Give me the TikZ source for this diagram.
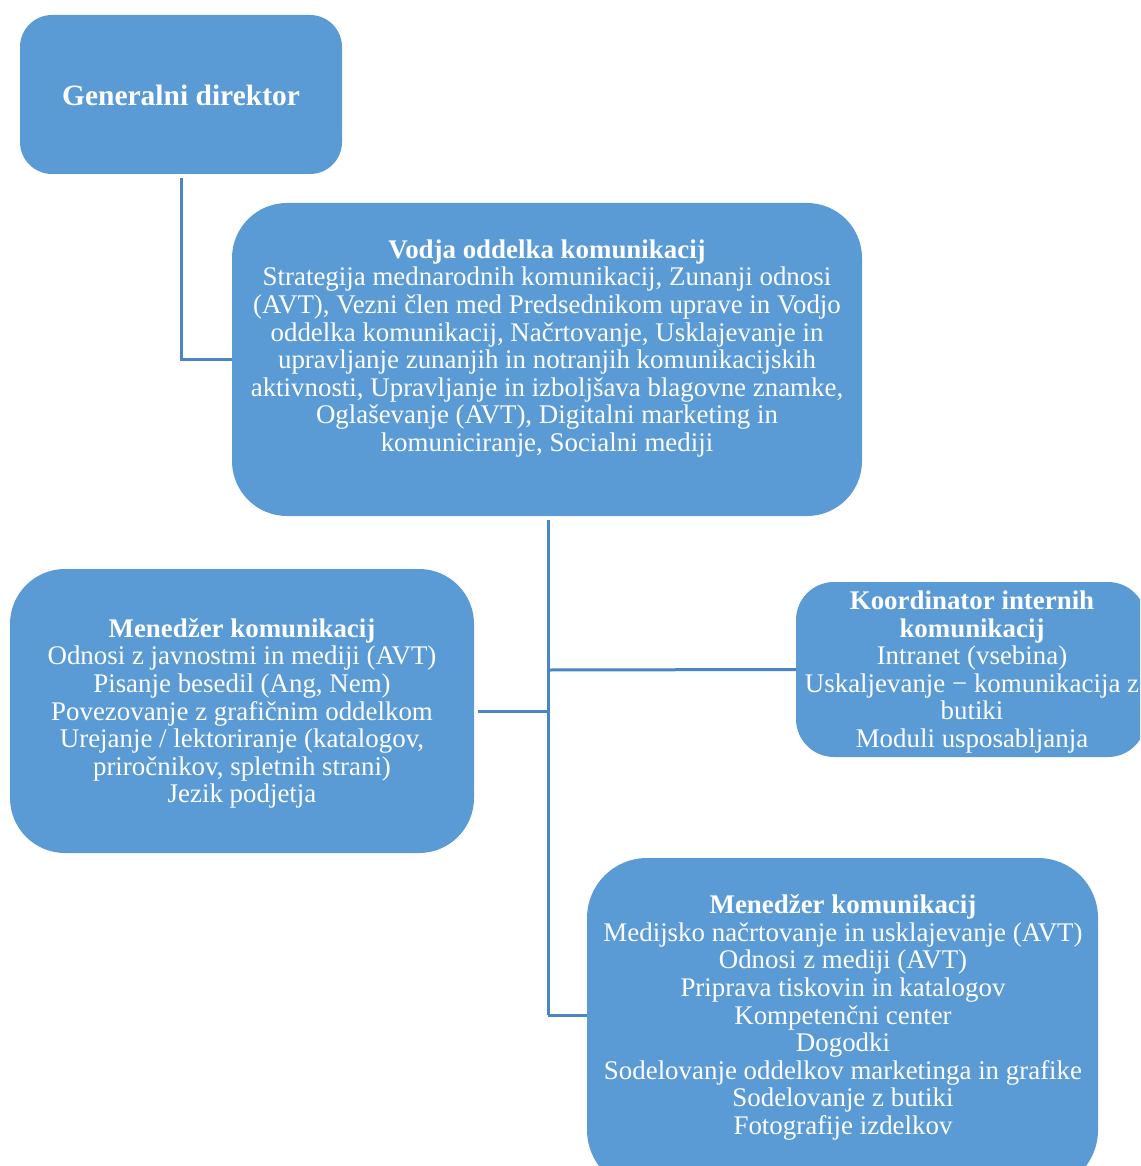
\documentclass[tikz,border=0pt]{standalone}
\usepackage{fontspec}
\setmainfont{Liberation Serif}
\definecolor{boxblue}{HTML}{5B9BD5}
\definecolor{linkblue}{HTML}{4A86C5}
\begin{document}
\begin{tikzpicture}[x=1pt,y=-1pt,
  box/.style={fill=boxblue,draw=none,inner sep=0pt,outer sep=0pt},
  txt/.style={text=white,align=center,inner sep=0pt,font=\fontsize{26.9}{27.6}\selectfont},
  link/.style={draw=linkblue,line width=3pt}]
\useasboundingbox (0,0) rectangle (1140,1166);
\clip (0,0) rectangle (1140,1166);
% boxes
\node[box,rounded corners=32pt,minimum width=322pt,minimum height=159pt] (gd) at (181,94.5) {};
\node[box,rounded corners=55pt,minimum width=630pt,minimum height=313pt] (vod) at (547,359.5) {};
\node[box,rounded corners=55pt,minimum width=464pt,minimum height=284pt] (men1) at (242,711) {};
\node[box,rounded corners=38pt,minimum width=350pt,minimum height=175pt] (koo) at (971,669.5) {};
\node[box,rounded corners=60pt,minimum width=511pt,minimum height=332pt] (men2) at (842.5,1024) {};
% texts
\node[txt,font=\fontsize{29.5}{27.6}\selectfont\bfseries] (tgd) at (181,95) {Generalni direktor};
\node[txt] (tvod) at (547,348.5) {\textbf{Vodja oddelka komunikacij}\\
Strategija mednarodnih komunikacij, Zunanji odnosi\\
(AVT), Vezni člen med Predsednikom uprave in Vodjo\\
oddelka komunikacij, Načrtovanje, Usklajevanje in\\
upravljanje zunanjih in notranjih komunikacijskih\\
aktivnosti, Upravljanje in izboljšava blagovne znamke,\\
Oglaševanje (AVT), Digitalni marketing in\\
komuniciranje, Socialni mediji};
\node[txt] (tmen1) at (242,713.5) {\textbf{Menedžer komunikacij}\\
Odnosi z javnostmi in mediji (AVT)\\
Pisanje besedil (Ang, Nem)\\
Povezovanje z grafičnim oddelkom\\
Urejanje / lektoriranje (katalogov,\\
priročnikov, spletnih strani)\\
Jezik podjetja};
\node[txt] (tkoo) at (972,672) {\textbf{Koordinator internih}\\
\textbf{komunikacij}\\
Intranet (vsebina)\\
Uskaljevanje − komunikacija z\\
butiki\\
Moduli usposabljanja};
\node[txt] (tmen2) at (843,1017.5) {\textbf{Menedžer komunikacij}\\
Medijsko načrtovanje in usklajevanje (AVT)\\
Odnosi z mediji (AVT)\\
Priprava tiskovin in katalogov\\
Kompetenčni center\\
Dogodki\\
Sodelovanje oddelkov marketinga in grafike\\
Sodelovanje z butiki\\
Fotografije izdelkov};
% connectors
\coordinate (j) at (548,1015);
\draw[link] (181,178) |- (vod.west);
\draw[link] (548,520) -- (j);
\draw[link] (548,670) -- (koo.west);
\draw[link] (548,711) -- (478,711);
\draw[link] (j) -- (men2.west |- j);
\end{tikzpicture}
\end{document}
